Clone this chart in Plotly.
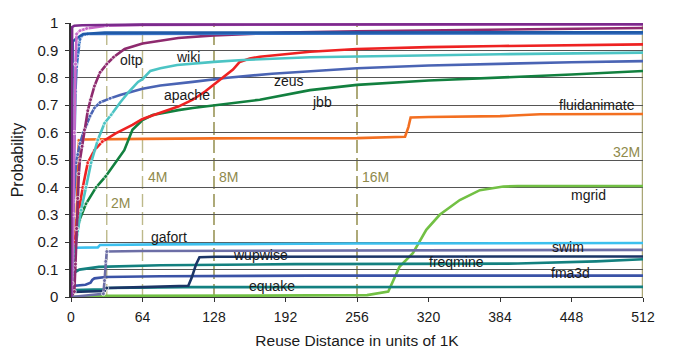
import plotly.graph_objects as go

# ---------------- data ----------------
blackscholes_x = [0, 0.3, 0.6, 1, 3, 10, 64, 512]
blackscholes_y = [0, 0.5, 0.95, 0.985, 0.99, 0.992, 0.994, 0.996]

bodytrack_x = [0, 1, 2, 3, 4, 5, 8, 14, 32, 64, 512]
bodytrack_y = [0, 0.05, 0.3, 0.6, 0.85, 0.96, 0.972, 0.98, 0.99, 0.993, 0.995]

swaptions_x = [0, 0.8, 1.5, 5, 11, 30, 512]
swaptions_y = [0, 0.5, 0.932, 0.944, 0.96, 0.965, 0.966]

ammp_x = [0, 1, 2, 3, 4, 5, 6, 7, 8, 10, 15, 512]
ammp_y = [0, 0.1, 0.35, 0.6, 0.75, 0.84, 0.88, 0.92, 0.94, 0.955, 0.96, 0.962]

oltp_x = [0, 3, 4, 5, 6, 7, 8, 10, 12, 15, 17.5, 21, 26, 32, 38, 48, 64, 96, 128, 192, 256, 384, 512]
oltp_y = [0, 0.02, 0.12, 0.25, 0.36, 0.45, 0.5, 0.55, 0.61, 0.68, 0.72, 0.77, 0.82, 0.85, 0.875, 0.905, 0.925, 0.945, 0.955, 0.965, 0.97, 0.977, 0.982]

wiki_x = [0, 1.5, 3, 6, 9, 13.4, 18, 24, 30, 36, 44, 52, 60, 64, 71, 80, 95, 128, 154, 214, 256, 384, 512]
wiki_y = [0, 0.08, 0.15, 0.24, 0.317, 0.40, 0.49, 0.573, 0.634, 0.665, 0.71, 0.75, 0.785, 0.795, 0.825, 0.835, 0.847, 0.858, 0.865, 0.875, 0.878, 0.886, 0.892]

apache_x = [0, 1.5, 3.5, 6, 10.5, 15, 21, 28, 40, 55, 64, 73, 85, 96, 109, 120, 133, 145, 151, 160, 169, 190, 214, 256, 320, 384, 512]
apache_y = [0, 0.11, 0.2, 0.29, 0.40, 0.49, 0.536, 0.567, 0.597, 0.628, 0.65, 0.664, 0.68, 0.695, 0.72, 0.75, 0.79, 0.83, 0.858, 0.87, 0.877, 0.885, 0.895, 0.905, 0.912, 0.916, 0.922]

zeus_x = [0, 0.5, 1, 2.5, 4.5, 6, 8, 11, 14, 17, 21, 26, 35, 44, 64, 80, 109, 140, 180, 214, 256, 320, 384, 448, 512]
zeus_y = [0, 0.1, 0.2, 0.35, 0.49, 0.52, 0.56, 0.6, 0.63, 0.66, 0.69, 0.71, 0.725, 0.737, 0.76, 0.772, 0.785, 0.80, 0.815, 0.825, 0.835, 0.845, 0.852, 0.857, 0.861]

jbb_x = [0, 1, 3, 5, 7.5, 13.4, 22.4, 31, 40, 47.7, 55, 64, 73, 80, 96, 109, 140, 169, 214, 256, 320, 384, 448, 512]
jbb_y = [0, 0.05, 0.17, 0.23, 0.28, 0.34, 0.40, 0.44, 0.49, 0.536, 0.61, 0.646, 0.664, 0.67, 0.682, 0.69, 0.705, 0.72, 0.755, 0.774, 0.79, 0.80, 0.812, 0.825]

fluidanimate_x = [0, 5, 7, 10, 64, 128, 256, 299, 302, 304, 320, 384, 420, 448, 512]
fluidanimate_y = [0, 0.3, 0.572, 0.575, 0.577, 0.579, 0.58, 0.585, 0.62, 0.655, 0.657, 0.66, 0.667, 0.667, 0.668]

mgrid_x = [0, 30, 160, 256, 265, 284, 294, 306, 318, 330, 348, 366, 387, 400, 512]
mgrid_y = [0, 0.004, 0.005, 0.005, 0.007, 0.02, 0.11, 0.16, 0.245, 0.30, 0.354, 0.39, 0.403, 0.405, 0.405]

gafort_x = [0, 1.5, 3.6, 24, 26, 80, 256, 512]
gafort_y = [0, 0.17, 0.18, 0.181, 0.19, 0.192, 0.195, 0.197]

swim_x = [0, 29, 30, 31, 32, 64, 256, 512]
swim_y = [0, 0.012, 0.06, 0.13, 0.166, 0.168, 0.17, 0.172]

wupwise_x = [0, 1, 30, 32, 64, 105, 108, 112, 115, 130, 512]
wupwise_y = [0, 0.018, 0.022, 0.033, 0.036, 0.041, 0.07, 0.12, 0.145, 0.147, 0.148]

freqmine_x = [0, 1.5, 7.5, 25, 80, 200, 400, 470, 512]
freqmine_y = [0, 0.085, 0.1, 0.11, 0.116, 0.12, 0.122, 0.13, 0.138]

fma3d_x = [0, 1.5, 13, 17.5, 19, 21, 31, 80, 214, 512]
fma3d_y = [0, 0.04, 0.045, 0.052, 0.062, 0.068, 0.073, 0.076, 0.078, 0.078]

equake_x = [0, 2, 30, 32, 100, 512]
equake_y = [0, 0.025, 0.028, 0.033, 0.036, 0.037]

series = [
    ("mgrid", mgrid_x, mgrid_y, "#72c044", False),
    ("equake", equake_x, equake_y, "#138080", False),
    ("fma3d", fma3d_x, fma3d_y, "#3a52a6", False),
    ("freqmine", freqmine_x, freqmine_y, "#13807f", False),
    ("wupwise", wupwise_x, wupwise_y, "#1b3566", True),
    ("swim", swim_x, swim_y, "#6c6ea6", True),
    ("gafort", gafort_x, gafort_y, "#3cc0ee", False),
    ("fluidanimate", fluidanimate_x, fluidanimate_y, "#f36f21", True),
    ("jbb", jbb_x, jbb_y, "#12803f", True),
    ("zeus", zeus_x, zeus_y, "#4a64b4", True),
    ("apache", apache_x, apache_y, "#ee2222", True),
    ("wiki", wiki_x, wiki_y, "#4cc4c4", True),
    ("oltp", oltp_x, oltp_y, "#8e2a6e", True),
    ("ammp", ammp_x, ammp_y, "#3b72c4", True),
    ("swaptions", swaptions_x, swaptions_y, "#1f5aa8", False),
    ("bodytrack", bodytrack_x, bodytrack_y, "#c868c8", True),
    ("blackscholes", blackscholes_x, blackscholes_y, "#7b2a8c", False),
]

x_ticks = [0, 64, 128, 192, 256, 320, 384, 448, 512]
cache_marks = [32, 64, 128, 256]
cache_labels = ["2M", "4M", "8M", "16M"]

labels = [
    ("oltp", 54, 0.865), ("wiki", 105, 0.876), ("zeus", 195, 0.79),
    ("apache", 104, 0.737), ("jbb", 225, 0.71), ("fluidanimate", 471, 0.70),
    ("mgrid", 463, 0.372), ("gafort", 88, 0.219), ("wupwise", 170, 0.153),
    ("swim", 445, 0.182), ("freqmine", 345, 0.128), ("fma3d", 447, 0.088),
    ("equake", 180, 0.04),
]
cache_text_pos = [(44, 0.343), (77, 0.438), (141, 0.438), (273, 0.438), (497, 0.53)]
title_text = "blackscholes, bodytrack, swaptions, ammp"

# ---------------- figure ----------------
fig = go.Figure()
for name, xs, ys, col, mk in series:
    sizes = [4 if (x > 0 and x < 40) else 0 for x in xs] if mk else 0
    fig.add_trace(go.Scatter(
        x=xs, y=ys, name=name, mode="lines+markers" if mk else "lines",
        line=dict(color=col, width=2.6),
        marker=dict(color=col, size=sizes),
        cliponaxis=False, showlegend=False, hoverinfo="skip",
    ))

light_k = "#bdb98a"
dark_k = "#8c8640"
for xm in cache_marks:
    col = light_k if xm <= 64 else dark_k
    fig.add_shape(type="line", xref="x", yref="y", x0=xm, x1=xm, y0=0, y1=1,
                  line=dict(color=col, width=1.4, dash="13px,5px"), layer="below")
fig.add_shape(type="line", xref="x", yref="y", x0=512, x1=512, y0=0, y1=1,
              line=dict(color="#aaa676", width=2.5), layer="below")

font_fam = "Arial, Liberation Sans, sans-serif"
for txt, xx, yy in labels:
    fig.add_annotation(x=xx, y=yy, text=txt, showarrow=False,
                       font=dict(family=font_fam, size=14, color="#1a1a1a"))
all_cache = cache_labels + ["32M"]
for txt, (xx, yy) in zip(all_cache, cache_text_pos):
    fig.add_annotation(x=xx, y=yy, text=txt, showarrow=False,
                       font=dict(family=font_fam, size=14, color="#8f8a4c"))
fig.add_annotation(x=254, y=1.047, text=title_text, showarrow=False,
                   font=dict(family=font_fam, size=14.5, color="#1a1a1a"))

# page body has an 8px default margin: compensate in figure size/margins
fig.update_layout(
    width=665, height=341,
    margin=dict(l=63, r=30, t=15, b=52),
    paper_bgcolor="white", plot_bgcolor="white",
    font=dict(family=font_fam, size=14, color="#1a1a1a"),
    xaxis=dict(range=[0, 512], tickvals=x_ticks, ticks="outside", ticklen=4,
               tickcolor="#333", showgrid=False, zeroline=False,
               showline=True, linecolor="#333", linewidth=1,
               ticklabelstandoff=3, automargin=False,
               title=dict(text="Reuse Distance in units of 1K", font=dict(size=15.5), standoff=11),
               tickfont=dict(size=14)),
    yaxis=dict(range=[0, 1], dtick=0.1, tick0=0, ticks="outside", ticklen=4,
               tickcolor="#333", showgrid=True, gridcolor="#555", gridwidth=1,
               zeroline=False, showline=True, linecolor="#333", linewidth=1.5,
               ticklabelstandoff=4, automargin=False,
               title=dict(text="Probability", font=dict(size=16), standoff=10),
               tickfont=dict(size=15)),
)

fig.write_html("out.html")
